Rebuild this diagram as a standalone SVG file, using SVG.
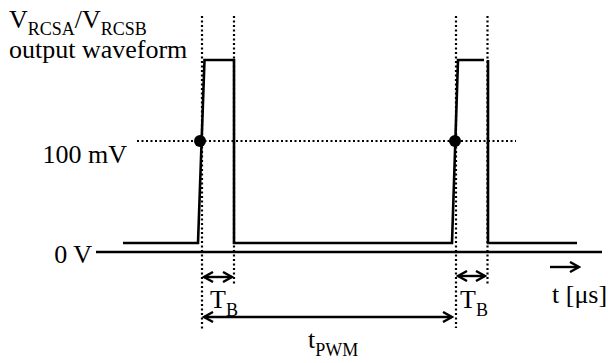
<svg xmlns="http://www.w3.org/2000/svg" width="608" height="363" viewBox="0 0 608 363">
<style>
text{font-family:"Liberation Serif","Times New Roman",serif;font-size:26px;fill:#000}
.sub{font-size:18px}
.dot{stroke:#000;stroke-width:2.2;stroke-dasharray:2 2.5;fill:none}
.wave{stroke:#000;stroke-width:2.6;fill:none;stroke-linejoin:miter}
.arr{stroke:#000;stroke-width:2.4;fill:none}
</style>
<defs>
<marker id="ah" viewBox="-10 -6 12 12" markerWidth="12" markerHeight="12" refX="0" refY="0" orient="auto-start-reverse" markerUnits="userSpaceOnUse">
<path d="M-9,-5 L0,0 L-9,5" fill="none" stroke="#000" stroke-width="2.4"/>
</marker>
</defs>
<g id="axis">
<line x1="96" y1="252" x2="602" y2="252" class="wave"/>
</g>
<g id="guides">
<line x1="202" y1="16" x2="202" y2="331" class="dot"/>
<line x1="234" y1="16" x2="234" y2="286" class="dot"/>
<line x1="456" y1="16" x2="456" y2="328" class="dot"/>
<line x1="487.5" y1="16" x2="487.5" y2="286" class="dot"/>
<line x1="137" y1="141" x2="516" y2="141" class="dot"/>
</g>
<g id="waveform">
<polyline class="wave" points="123,243 198,243 204.5,60 234,60 234,243 452,243 458,60 484,60"/>
<polyline class="wave" points="488,60 488,243 577,243"/>
<circle cx="200" cy="141" r="6"/>
<circle cx="455" cy="141" r="6"/>
</g>
<g id="connectors">
<line x1="204" y1="277" x2="232" y2="277" class="arr" marker-start="url(#ah)" marker-end="url(#ah)"/>
<line x1="458" y1="276" x2="485" y2="276" class="arr" marker-start="url(#ah)" marker-end="url(#ah)"/>
<line x1="204" y1="317" x2="452" y2="317" class="arr" marker-start="url(#ah)" marker-end="url(#ah)"/>
<line x1="550" y1="267" x2="579" y2="267" class="arr" marker-end="url(#ah)"/>
</g>
<g id="labels">
<text x="9" y="28">V<tspan class="sub" dy="7">RCSA</tspan><tspan dy="-7">/V</tspan><tspan class="sub" dy="7">RCSB</tspan></text>
<text x="9" y="58">output waveform</text>
<text x="127" y="163" text-anchor="end">100 mV</text>
<text x="92" y="263" text-anchor="end">0 V</text>
<text x="210" y="308">T<tspan class="sub" dy="8">B</tspan></text>
<text x="460" y="308">T<tspan class="sub" dy="8">B</tspan></text>
<text x="552" y="303">t [μs]</text>
<text x="308" y="348">t<tspan class="sub" dy="8">PWM</tspan></text>
</g>
</svg>
